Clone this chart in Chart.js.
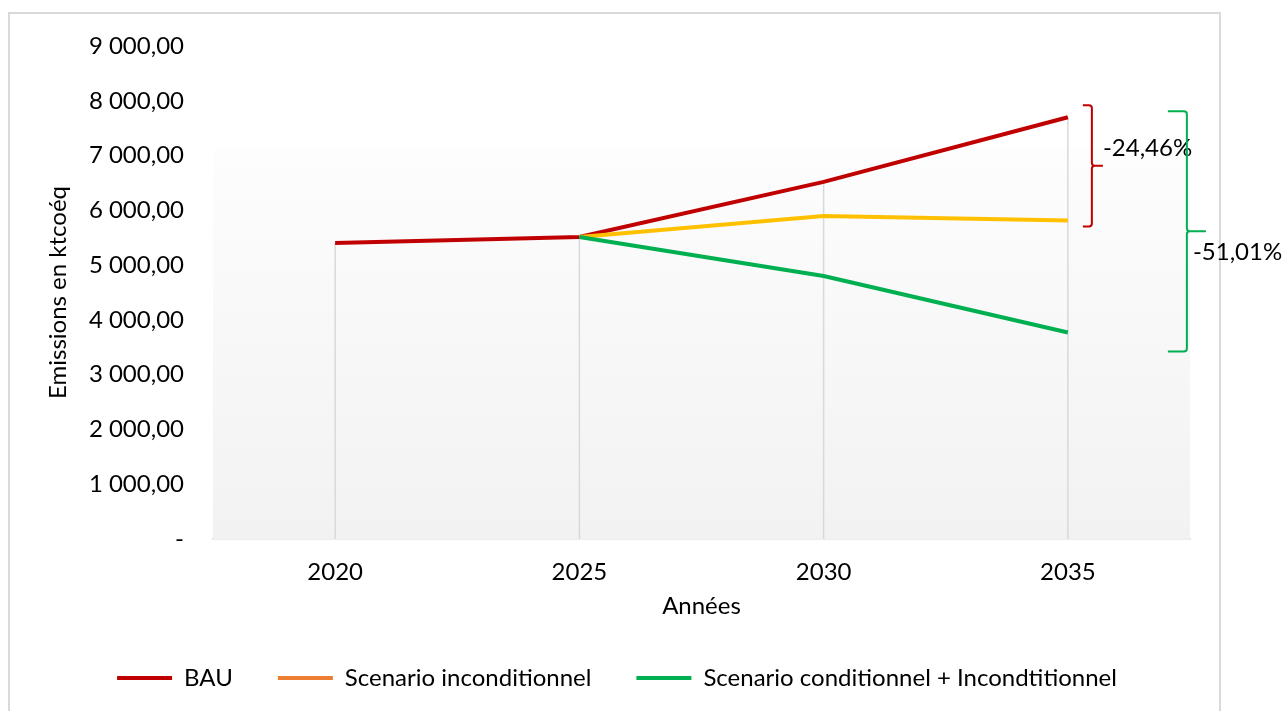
<!DOCTYPE html>
<html>
<meta charset="UTF-8">
<title>Emissions</title>
<style type="text/css">
	html,
	body {
		margin: 0px;
		width: 1284px;
		height: 711px;
		background: #ffffff;
		overflow: hidden;
	}

	.frame {
		position: absolute;
		left: 8px;
		top: 12px;
		width: 1209px;
		height: 720px;
		border: 2px solid #d9d9d9;
	}

	#chart {
		position: absolute;
		left: 0px;
		top: 0px;
	}
</style>
<script src="https://cdn.jsdelivr.net/npm/chart.js"></script>

<body>
	<div class="frame"></div>
	<canvas id="chart" width="1284" height="711"></canvas>

	<script>
		var years = ['2020', '2025', '2030', '2035'];

		var bau = [5405, 5515, 6520, 7700];
		var inconditionnel = [null, 5515, 5895, 5815];
		var conditionnel = [null, 5515, 4800, 3770];

		var seriesNames = ['BAU', 'Scenario inconditionnel', 'Scenario conditionnel + Incondtitionnel'];
		var lineColors = ['#c00000', '#ffc000', '#00b050'];
		var legendColors = ['#c00000', '#ed7d31', '#00b050'];

		var yTicks = [0, 1000, 2000, 3000, 4000, 5000, 6000, 7000, 8000, 9000];

		// brackets: which two series, and the text beside them
		var bracketLabels = ['-24,46%', '-51,01%'];
		var bracketSeries = [[0, 1], [0, 2]];

		var textColor = '#000000';
		var fontName = 'Lato';

		function fmt(v) {
			if (v === 0) return '-';
			var s = Math.round(v).toString();
			s = s.replace(/\B(?=(\d{3})+(?!\d))/g, ' ');
			return s + ',00';
		}

		// plot background and drop lines
		var backPlugin = {
			id: 'back',
			beforeDatasetsDraw: function (chart) {
				var ctx = chart.ctx;
				var a = chart.chartArea;
				var top = a.top + (a.bottom - a.top) * 0.21;
				var g = ctx.createLinearGradient(0, top, 0, a.bottom);
				g.addColorStop(0, '#fdfdfd');
				g.addColorStop(1, '#f2f2f2');
				ctx.save();
				ctx.fillStyle = g;
				ctx.fillRect(a.left, top, a.right - a.left, a.bottom - top);

				var xs = chart.scales.x;
				var ys = chart.scales.y;
				ctx.strokeStyle = '#d9d9d9';
				ctx.lineWidth = 1.5;
				for (var i = 0; i < years.length; i++) {
					var m = 0;
					chart.data.datasets.forEach(function (d) {
						if (d.data[i] != null && d.data[i] > m) m = d.data[i];
					});
					var x = xs.getPixelForValue(i);
					ctx.beginPath();
					ctx.moveTo(x, ys.getPixelForValue(m));
					ctx.lineTo(x, a.bottom);
					ctx.stroke();
				}
				ctx.restore();
			}
		};

		// curly brackets with percentage text
		var bracketStyle = [
			{ dx: 15, w: 9, tip: 11, padTop: 12, padBottom: 6, color: '#c00000', tx: 0, ty: -18 },
			{ dx: 100, w: 19, tip: 19, padTop: 6, padBottom: 19, color: '#00b050', tx: -13, ty: 21 }
		];

		var bracketPlugin = {
			id: 'brackets',
			afterDatasetsDraw: function (chart) {
				var ctx = chart.ctx;
				var xs = chart.scales.x;
				var ys = chart.scales.y;
				var last = years.length - 1;
				ctx.save();
				for (var b = 0; b < bracketLabels.length; b++) {
					var st = bracketStyle[b];
					var v1 = chart.data.datasets[bracketSeries[b][0]].data[last];
					var v2 = chart.data.datasets[bracketSeries[b][1]].data[last];
					var top = ys.getPixelForValue(Math.max(v1, v2)) - st.padTop;
					var bottom = ys.getPixelForValue(Math.min(v1, v2)) + st.padBottom;
					var mid = (top + bottom) / 2;
					var xl = xs.getPixelForValue(last) + st.dx;
					var xr = xl + st.w;
					var tip = xr + st.tip;
					var r = 3;
					ctx.strokeStyle = st.color;
					ctx.lineWidth = 2;
					ctx.beginPath();
					ctx.moveTo(xl, top);
					ctx.lineTo(xr - r, top);
					ctx.quadraticCurveTo(xr, top, xr, top + r);
					ctx.lineTo(xr, mid - r);
					ctx.quadraticCurveTo(xr, mid, xr + r, mid);
					ctx.lineTo(tip, mid);
					ctx.moveTo(xr + r, mid);
					ctx.quadraticCurveTo(xr, mid, xr, mid + r);
					ctx.lineTo(xr, bottom - r);
					ctx.quadraticCurveTo(xr, bottom, xr - r, bottom);
					ctx.lineTo(xl, bottom);
					ctx.stroke();

					ctx.fillStyle = textColor;
					ctx.font = '24px ' + fontName;
					ctx.textAlign = 'left';
					ctx.textBaseline = 'middle';
					ctx.fillText(bracketLabels[b], tip + st.tx, mid + st.ty);
				}
				ctx.restore();
			}
		};

		var allSeries = [bau, inconditionnel, conditionnel];
		var datasets = allSeries.map(function (d, i) {
			return {
				label: seriesNames[i],
				data: d,
				borderColor: lineColors[i],
				backgroundColor: lineColors[i],
				borderWidth: 4,
				pointRadius: 0,
				tension: 0,
				fill: false,
				order: 3 - i
			};
		});

		var config = {
			type: 'line',
			data: {
				labels: years,
				datasets: datasets
			},
			options: {
				responsive: false,
				animation: false,
				layout: {
					padding: { left: 44, right: 94, top: 46, bottom: 11 }
				},
				plugins: {
					tooltip: { enabled: false },
					legend: {
						position: 'bottom',
						labels: {
							color: textColor,
							font: { family: fontName, size: 24 },
							boxWidth: 55,
							boxHeight: 4,
							padding: 45,
							generateLabels: function (chart) {
								return chart.data.datasets.map(function (d, i) {
									return {
										text: d.label,
										fillStyle: legendColors[i],
										strokeStyle: legendColors[i],
										lineWidth: 0,
										fontColor: textColor,
										datasetIndex: i
									};
								});
							}
						}
					}
				},
				scales: {
					x: {
						type: 'category',
						offset: true,
						grid: { display: false, drawTicks: false },
						border: { display: true, color: '#d9d9d9', width: 1.5 },
						ticks: {
							color: textColor,
							font: { family: fontName, size: 24 },
							padding: 19,
							maxRotation: 0
						},
						title: {
							display: true,
							text: 'Années',
							color: textColor,
							font: { family: fontName, size: 24 },
							padding: { top: 0, bottom: 0 }
						},
						afterFit: function (s) { s.height = 82; }
					},
					y: {
						min: 0,
						max: 9000,
						grid: { display: false, drawTicks: false },
						border: { display: false },
						afterBuildTicks: function (s) {
							s.ticks = yTicks.map(function (v) { return { value: v }; });
						},
						ticks: {
							color: textColor,
							font: { family: fontName, size: 24 },
							padding: 29,
							callback: function (v) { return fmt(v); }
						},
						title: {
							display: true,
							text: 'Emissions en ktcoéq',
							color: textColor,
							font: { family: fontName, size: 24 },
							padding: { top: 0, bottom: 0 }
						},
						afterFit: function (s) { s.width = 169; }
					}
				}
			},
			plugins: [backPlugin, bracketPlugin]
		};

		var myChart = new Chart(document.getElementById('chart'), config);
	</script>
</body>

</html>
